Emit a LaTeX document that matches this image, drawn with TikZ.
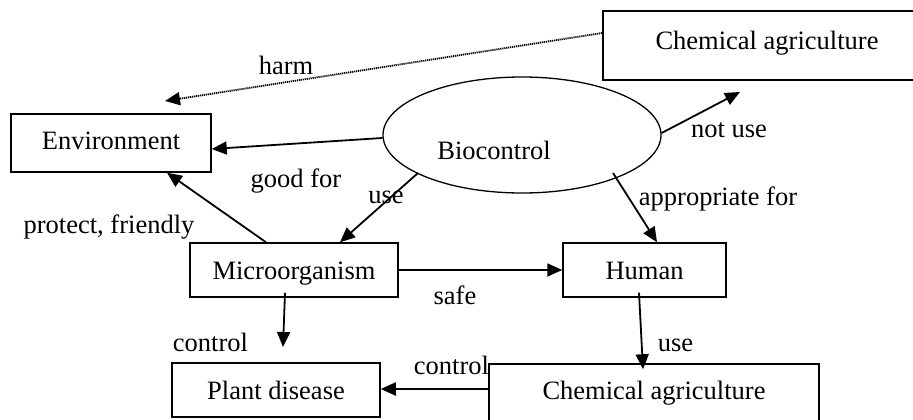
\documentclass[tikz,border=0pt]{standalone}
\usepackage{fontspec}
\setmainfont{Liberation Serif}
\usetikzlibrary{arrows.meta,shapes.geometric,calc}
\begin{document}
\begin{tikzpicture}[x=1pt,y=-1pt,
  every node/.style={font=\fontsize{26.5pt}{30pt}\selectfont},
  boxnode/.style={draw,line width=1.5pt,rectangle,inner sep=0pt,text height=18.55pt},
  lbl/.style={inner sep=0pt,text height=18.55pt,text depth=6.6pt},
  arr/.style={line width=1.8pt,-{Triangle[length=15pt,width=13pt]}},
  dotarr/.style={line width=1.8pt,dash pattern=on 1.2pt off 0.8pt,-{Triangle[length=15pt,width=13pt]}}]
\clip (0,0) rectangle (913,420);
\fill[white] (0,0) rectangle (913,420);
% boxes
\node[boxnode,minimum width=328pt,minimum height=69pt,text depth=11.55pt] (chem1) at (767,45.5) {Chemical agriculture};
\node[boxnode,minimum width=200pt,minimum height=58pt,text depth=6.55pt] (env) at (111,143) {Environment};
\node[draw,ellipse,line width=1.3pt,minimum width=278pt,minimum height=116pt,inner sep=0pt] (bio) at (522,135) {};
\node[lbl] (biotxt) at (494,154) {Biocontrol};
\node[boxnode,minimum width=208pt,minimum height=54pt,text depth=0.55pt] (micro) at (294,270) {Microorganism};
\node[boxnode,minimum width=163pt,minimum height=54pt,text depth=0.55pt] (human) at (644.5,270) {Human};
\node[boxnode,minimum width=208pt,minimum height=54pt,text depth=0.55pt] (plant) at (276,390) {Plant disease};
\node[boxnode,minimum width=330pt,minimum height=66pt,text depth=13.55pt] (chem2) at (654,397) {Chemical agriculture};
% free ends and border points
\coordinate (harmend) at (165,101);
\coordinate (notuseend) at (740,92);
\coordinate (ctrlend) at (283,347);
\coordinate (bioA) at ($(bio.center)+(91,38)$);
\coordinate (bioU) at ($(bio.center)+(-104,38)$);
% connectors
\draw[dotarr] ([yshift=12.5pt]chem1.west) -- (harmend);
\draw[arr] ([yshift=-3pt]bio.west) -- ([yshift=-6pt]env.east);
\draw[arr] ([yshift=2pt]bio.east) -- (notuseend);
\draw[arr] (bioA) -- ([xshift=12.5pt]human.north);
\draw[arr] (bioU) -- ([xshift=46pt]micro.north);
\draw[arr] ([xshift=-28pt]micro.north) -- ([xshift=56pt]env.south);
\draw[arr] (micro.east) -- (human.west);
\draw[arr] ([xshift=-9pt,yshift=5pt]micro.south) -- (ctrlend);
\draw[arr] ([xshift=-5.5pt,yshift=5pt]human.south) -- ([xshift=-11pt,yshift=-6pt]chem2.north);
\draw[arr] ([yshift=8pt]chem2.west) -- ([yshift=1pt]plant.east);
% labels
\node[lbl] (lharm) at (286,68.7) {harm};
\node[lbl] (lgood) at (296,182) {good for};
\node[lbl] (luse1) at (386,198) {use};
\node[lbl] (lnot) at (729,132) {not use};
\node[lbl] (lappr) at (718,200) {appropriate for};
\node[lbl] (lprot) at (109,228) {protect, friendly};
\node[lbl] (lsafe) at (455,298.7) {safe};
\node[lbl] (lctrl1) at (210.5,346) {control};
\node[lbl] (luse2) at (675.5,346) {use};
\node[lbl] (lctrl2) at (451.5,369) {control};
\end{tikzpicture}
\end{document}
